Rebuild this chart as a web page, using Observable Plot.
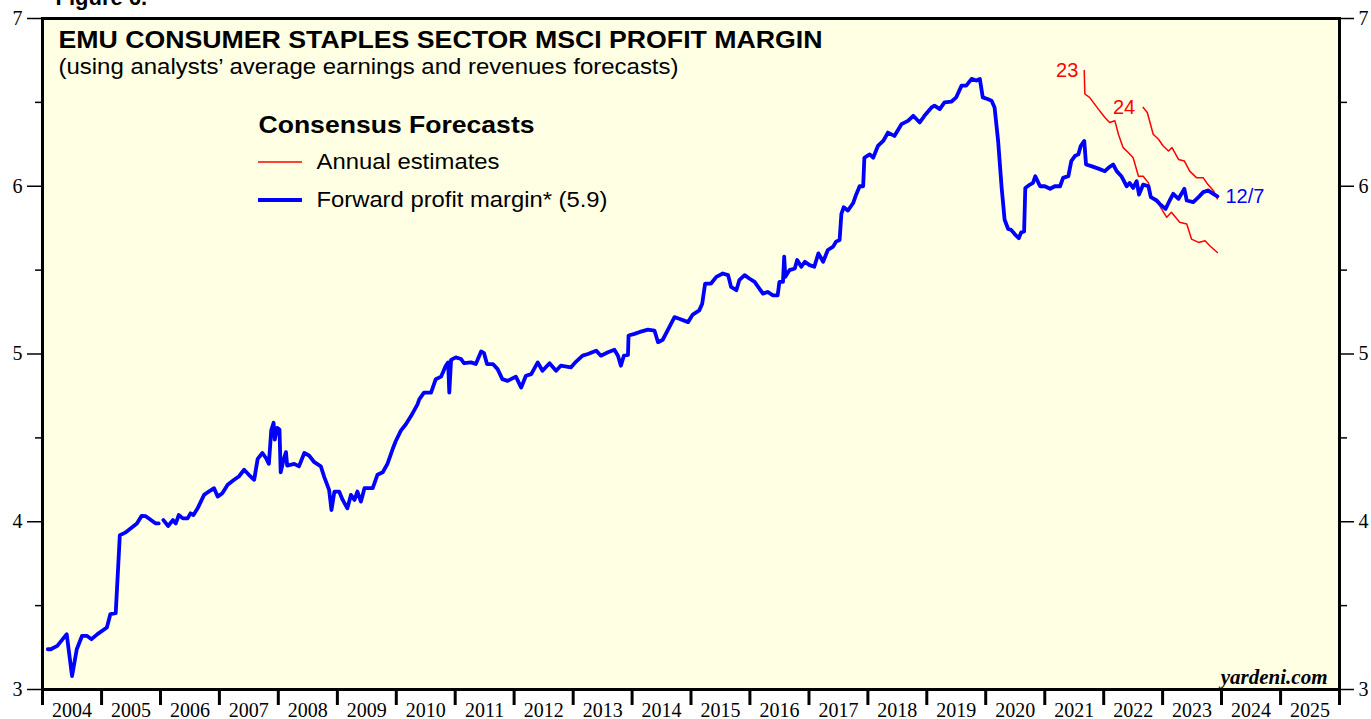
<!DOCTYPE html>
<html><head><meta charset="utf-8">
<script src="https://cdn.jsdelivr.net/npm/d3@7"></script>
<script src="https://cdn.jsdelivr.net/npm/@observablehq/plot@0.6"></script>
<style>html,body{margin:0;padding:0;background:#fff;}</style>
</head><body><div id="chart"></div>
<script>
// Forward profit margin (decimal years, percent). NaN marks a gap in the series.
const fwdYears = [2004.09,2004.14,2004.25,2004.41,2004.50,2004.58,2004.67,2004.75,2004.83,2004.93,
2005.09,2005.15,2005.24,2005.31,2005.40,2005.60,2005.68,2005.75,2005.92,2005.97,2006.01,
2006.05,2006.13,2006.21,2006.26,2006.31,2006.38,2006.46,2006.51,2006.56,2006.63,2006.74,2006.82,2006.91,2006.97,
2007.05,2007.14,2007.25,2007.33,2007.42,2007.50,2007.59,2007.65,2007.73,2007.79,2007.84,2007.88,2007.92,2007.94,2007.98,
2008.02,2008.04,2008.09,2008.13,2008.15,2008.27,2008.35,2008.44,2008.52,2008.61,2008.72,2008.78,2008.86,2008.90,2008.95,
2009.03,2009.09,2009.17,2009.23,2009.29,2009.34,2009.40,2009.46,2009.60,2009.68,2009.77,2009.85,2009.94,2009.99,
2010.08,2010.16,2010.25,2010.36,2010.39,2010.47,2010.59,2010.67,2010.76,2010.84,2010.88,2010.90,2010.93,
2011.01,2011.10,2011.15,2011.27,2011.35,2011.44,2011.49,2011.54,2011.64,2011.72,2011.80,2011.89,
2012.03,2012.12,2012.20,2012.29,2012.40,2012.48,2012.60,2012.71,2012.79,2012.96,
2013.05,2013.16,2013.25,2013.39,2013.47,2013.59,2013.70,2013.76,2013.81,2013.86,2013.93,2013.94,
2014.04,2014.12,2014.27,2014.38,2014.44,2014.52,2014.61,2014.72,2014.80,2014.95,
2015.03,2015.14,2015.19,2015.24,2015.34,2015.43,2015.54,2015.63,2015.68,2015.77,2015.82,2015.91,2015.99,
2016.08,2016.16,2016.22,2016.30,2016.39,2016.47,2016.50,2016.56,2016.58,2016.60,2016.67,2016.76,2016.80,2016.87,2016.93,
2017.01,2017.09,2017.16,2017.24,2017.32,2017.41,2017.46,2017.52,2017.55,2017.59,2017.66,2017.75,2017.80,2017.86,2017.92,2017.94,
2018.03,2018.09,2018.17,2018.26,2018.34,2018.45,2018.57,2018.68,2018.77,2018.88,2018.96,
2019.08,2019.13,2019.22,2019.30,2019.42,2019.50,2019.59,2019.67,2019.76,2019.84,2019.90,2019.95,
2020.03,2020.10,2020.15,2020.21,2020.27,2020.32,2020.38,2020.43,2020.49,2020.56,2020.60,2020.65,2020.67,2020.75,2020.80,2020.84,2020.92,
2021.00,2021.09,2021.17,2021.26,2021.31,2021.40,2021.45,2021.51,2021.57,2021.61,2021.67,2021.70,2021.79,2021.91,
2022.02,2022.08,2022.16,2022.22,2022.30,2022.39,2022.44,2022.50,2022.56,2022.60,2022.67,2022.76,2022.80,2022.90,2022.95,
2023.05,2023.12,2023.18,2023.27,2023.37,2023.41,2023.52,2023.61,2023.69,2023.77,2023.86,2023.93];
const fwdValues = [3.24,3.24,3.26,3.33,3.08,3.24,3.32,3.32,3.30,3.33,
3.37,3.45,3.455,3.92,3.935,3.99,4.035,4.033,3.99,3.99,NaN,
4.01,3.975,4.01,3.99,4.04,4.02,4.02,4.05,4.04,4.08,4.16,4.18,4.20,4.15,
4.17,4.22,4.25,4.27,4.31,4.28,4.25,4.375,4.41,4.38,4.345,4.545,4.59,4.49,4.56,
4.55,4.295,4.37,4.415,4.335,4.345,4.33,4.41,4.395,4.355,4.33,4.265,4.19,4.07,4.18,
4.18,4.13,4.08,4.16,4.13,4.18,4.12,4.20,4.20,4.28,4.295,4.345,4.435,4.48,
4.545,4.58,4.63,4.70,4.73,4.77,4.77,4.85,4.865,4.93,4.95,4.77,4.965,
4.98,4.97,4.945,4.95,4.94,5.015,5.005,4.94,4.94,4.91,4.85,4.84,
4.865,4.80,4.87,4.88,4.95,4.90,4.945,4.90,4.93,4.92,
4.955,4.99,5.00,5.02,4.99,5.01,5.025,4.99,4.93,4.99,4.995,5.11,
5.12,5.13,5.145,5.14,5.07,5.085,5.145,5.22,5.21,5.19,
5.235,5.26,5.30,5.42,5.42,5.46,5.48,5.47,5.40,5.38,5.44,5.47,5.45,
5.43,5.39,5.36,5.37,5.35,5.35,5.43,5.43,5.58,5.46,5.50,5.51,5.56,5.52,5.55,
5.53,5.52,5.60,5.55,5.62,5.64,5.67,5.68,5.835,5.875,5.855,5.90,5.95,6.00,6.00,6.17,
6.19,6.17,6.24,6.27,6.32,6.30,6.37,6.39,6.42,6.38,6.42,
6.47,6.48,6.46,6.50,6.505,6.53,6.60,6.60,6.64,6.63,6.64,6.53,
6.52,6.51,6.47,6.27,5.99,5.80,5.745,5.74,5.715,5.69,5.725,5.73,5.99,6.01,6.02,6.06,6.00,
6.00,5.985,6.00,6.00,6.05,6.06,6.15,6.18,6.19,6.24,6.27,6.13,6.12,6.105,
6.09,6.11,6.13,6.09,6.06,6.00,6.02,5.99,6.03,5.95,6.01,6.00,5.935,5.915,5.895,
5.865,5.915,5.955,5.925,5.985,5.915,5.905,5.935,5.965,5.975,5.955,5.94];

// Annual estimates
const est23Years = [2021.67,2021.68,2021.76,2021.91,2022.02,2022.10,2022.19,2022.25,2022.33,2022.42,2022.50,2022.59,2022.67,2022.76,2022.81,2022.93,2023.07,2023.15,2023.29,2023.41,2023.49,2023.61,2023.72,2023.80,2023.93];
const est23Values = [6.69,6.55,6.53,6.46,6.41,6.38,6.39,6.31,6.23,6.20,6.17,6.06,6.06,6.02,5.935,5.895,5.815,5.845,5.785,5.775,5.685,5.665,5.675,5.645,5.605];
const est24Years = [2022.67,2022.74,2022.84,2022.93,2023.01,2023.10,2023.16,2023.27,2023.37,2023.46,2023.58,2023.69,2023.77,2023.86,2023.93];
const est24Values = [6.47,6.44,6.31,6.28,6.24,6.21,6.23,6.16,6.15,6.09,6.05,6.05,6.01,5.975,5.925];

const yearBoundaries = d3.range(2004, 2027);
const yearLabels = d3.range(2004, 2026);
const yMajor = [3, 4, 5, 6, 7];
const yMinor = [3.5, 4.5, 5.5, 6.5];

function toDate(y) {
  const yr = Math.floor(y);
  const s = Date.UTC(yr, 0, 1), e = Date.UTC(yr + 1, 0, 1);
  return new Date(s + (y - yr) * (e - s));
}
const zip = (xs, vs) => xs.map((x, i) => ({date: toDate(x), value: vs[i]}));
const fwd = zip(fwdYears, fwdValues);
const e23 = zip(est23Years, est23Values);
const e24 = zip(est24Years, est24Values);

const sans = "Liberation Sans, Arial, sans-serif";
const serif = "Liberation Serif, Times New Roman, serif";

function legendKeys(index, scales, values, dims) {
  const g = d3.create("svg:g");
  const x0 = dims.marginLeft + 216, x1 = dims.marginLeft + 260;
  g.append("line").attr("x1", x0).attr("x2", x1).attr("y1", 162).attr("y2", 162)
    .attr("stroke", "#ff0000").attr("stroke-width", 1.5);
  g.append("line").attr("x1", x0).attr("x2", x1).attr("y1", 200).attr("y2", 200)
    .attr("stroke", "#0000ff").attr("stroke-width", 4);
  return g.node();
}

const chart = Plot.plot({
  width: 1371, height: 719,
  marginLeft: 42, marginRight: 32, marginTop: 18, marginBottom: 30,
  style: {background: "white", fontFamily: serif, overflow: "visible"},
  x: {type: "utc", domain: [toDate(2004), toDate(2026)], label: null},
  y: {domain: [3, 7], label: null},
  marks: [
    Plot.frame({fill: "#ffffe4", stroke: null}),
    Plot.line(e23, {x: "date", y: "value", stroke: "#ff0000", strokeWidth: 1.5}),
    Plot.line(e24, {x: "date", y: "value", stroke: "#ff0000", strokeWidth: 1.5}),
    Plot.line(fwd, {x: "date", y: "value", stroke: "#0000ff", strokeWidth: 3.8, strokeLinejoin: "round"}),
    Plot.text(e23.slice(0, 1), {x: "date", y: "value", text: () => "23", fill: "#ff0000", fontSize: 20, fontFamily: sans, textAnchor: "end", dx: -6}),
    Plot.text(e24.slice(0, 1), {x: "date", y: "value", text: () => "24", fill: "#ff0000", fontSize: 20, fontFamily: sans, textAnchor: "end", dx: -8}),
    Plot.text(fwd.slice(-1), {x: "date", y: "value", text: () => "12/7", fill: "#0000ff", fontSize: 20, fontFamily: sans, textAnchor: "start", dx: 8}),
    Plot.frame({stroke: "black", strokeWidth: 3}),
    Plot.axisY({anchor: "left", ticks: yMajor, tickSize: 15, tickPadding: 5, fontSize: 20, strokeWidth: 1.5, tickFormat: d => String(d)}),
    Plot.axisY({anchor: "left", ticks: yMinor, tickSize: 7, tickFormat: () => "", strokeWidth: 1.5}),
    Plot.axisY({anchor: "right", ticks: yMajor, tickSize: 14, tickPadding: 5, fontSize: 20, strokeWidth: 1.5, tickFormat: d => String(d)}),
    Plot.axisY({anchor: "right", ticks: yMinor, tickSize: 7, tickFormat: () => "", strokeWidth: 1.5}),
    Plot.axisX({ticks: yearBoundaries.map(toDate), tickSize: 16, tickFormat: () => "", strokeWidth: 3}),
    Plot.axisX({ticks: yearLabels.map(y => toDate(y + 0.5)), tickSize: 0, tickPadding: 13, fontSize: 20,
      tickFormat: d => String(d.getUTCFullYear())}),
    Plot.text(["Figure 6."], {frameAnchor: "top-left", dx: 13, dy: -14, lineAnchor: "bottom", fontSize: 22, fontWeight: "bold", fontFamily: sans, fill: "black"}),
    Plot.text(["EMU CONSUMER STAPLES SECTOR MSCI PROFIT MARGIN"], {className: "t-title", frameAnchor: "top-left", dx: 16, dy: 12, lineAnchor: "top", textAnchor: "start", fontSize: 24, fontWeight: "bold", fontFamily: sans, fill: "black"}),
    Plot.text(["(using analysts\u2019 average earnings and revenues forecasts)"], {className: "t-sub", frameAnchor: "top-left", dx: 16, dy: 40, lineAnchor: "top", textAnchor: "start", fontSize: 21.5, fontFamily: sans, fill: "black"}),
    Plot.text(["Consensus Forecasts"], {className: "t-cons", frameAnchor: "top-left", dx: 216, dy: 107, lineAnchor: "middle", textAnchor: "start", fontSize: 24, fontWeight: "bold", fontFamily: sans, fill: "black"}),
    Plot.text(["Annual estimates"], {className: "t-ann", frameAnchor: "top-left", dx: 274, dy: 144, lineAnchor: "middle", textAnchor: "start", fontSize: 21.5, fontFamily: sans, fill: "black"}),
    Plot.text(["Forward profit margin* (5.9)"], {className: "t-fwd", frameAnchor: "top-left", dx: 274, dy: 182, lineAnchor: "middle", textAnchor: "start", fontSize: 21.5, fontFamily: sans, fill: "black"}),
    legendKeys,
    Plot.text(["yardeni.com"], {frameAnchor: "bottom-right", dx: -12, dy: -6, lineAnchor: "bottom", textAnchor: "end", fontSize: 21, fontWeight: "bold", fontStyle: "italic", fontFamily: serif, fill: "black"})
  ]
});
// Stretch text widths to match the original's horizontally wide lettering
const widths = {"t-title": 764, "t-sub": 620, "t-cons": 276, "t-ann": 183, "t-fwd": 291};
for (const [cls, w] of Object.entries(widths)) {
  d3.select(chart).selectAll("." + cls + " text").attr("textLength", w).attr("lengthAdjust", "spacingAndGlyphs");
}
document.getElementById("chart").appendChild(chart);
</script>
</body></html>
